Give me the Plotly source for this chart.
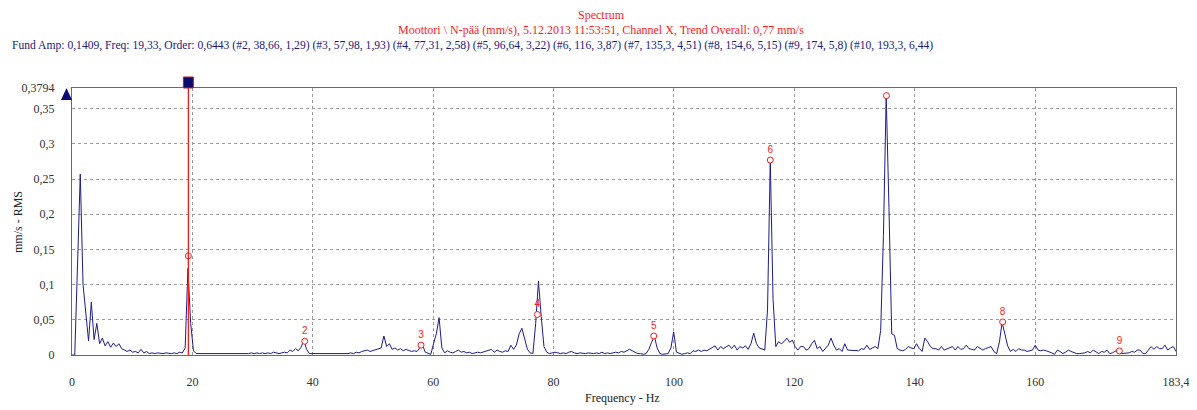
import numpy as np
import plotly.graph_objects as go

# ---------------- data ----------------
FMAX = 183.4          # Hz, analyser span
LINES = 400           # spectral lines -> bin width FMAX/LINES

AMP = [
    0.000, 0.000, 0.128, 0.257, 0.100, 0.055, 0.020, 0.075, 0.022, 0.045,
    0.016, 0.024, 0.013, 0.019, 0.011, 0.017, 0.012, 0.016, 0.009, 0.007,
    0.005, 0.007, 0.004, 0.005, 0.003, 0.008, 0.003, 0.005, 0.002, 0.003,
    0.002, 0.003, 0.002, 0.002, 0.003, 0.002, 0.002, 0.003, 0.002, 0.004,
    0.003, 0.010, 0.123, 0.045, 0.006, 0.002, 0.002, 0.001, 0.002, 0.001,
    0.002, 0.001, 0.002, 0.001, 0.002, 0.001, 0.002, 0.002, 0.001, 0.002,
    0.001, 0.002, 0.002, 0.001, 0.002, 0.003, 0.002, 0.003, 0.002, 0.003,
    0.002, 0.003, 0.002, 0.004, 0.003, 0.002, 0.003, 0.004, 0.003, 0.007,
    0.005, 0.009, 0.006, 0.011, 0.021, 0.008, 0.002, 0.002, 0.001, 0.002,
    0.002, 0.001, 0.002, 0.001, 0.002, 0.002, 0.001, 0.002, 0.002, 0.001,
    0.002, 0.003, 0.002, 0.004, 0.003, 0.005, 0.006, 0.007, 0.005, 0.006,
    0.007, 0.008, 0.010, 0.027, 0.012, 0.016, 0.008, 0.010, 0.007, 0.009,
    0.006, 0.008, 0.007, 0.005, 0.006, 0.005, 0.010, 0.014, 0.004, 0.002,
    0.001, 0.016, 0.030, 0.053, 0.010, 0.003, 0.006, 0.004, 0.003, 0.005,
    0.007, 0.004, 0.005, 0.003, 0.004, 0.002, 0.003, 0.004, 0.003, 0.004,
    0.005, 0.006, 0.008, 0.004, 0.007, 0.005, 0.004, 0.006, 0.005, 0.014,
    0.008, 0.014, 0.030, 0.038, 0.022, 0.008, 0.003, 0.002, 0.045, 0.105,
    0.055, 0.012, 0.004, 0.002, 0.003, 0.004, 0.003, 0.002, 0.003, 0.002,
    0.004, 0.005, 0.003, 0.002, 0.003, 0.002, 0.002, 0.003, 0.002, 0.002,
    0.003, 0.002, 0.004, 0.002, 0.003, 0.002, 0.003, 0.004, 0.003, 0.005,
    0.004, 0.006, 0.008, 0.006, 0.004, 0.002, 0.002, 0.001, 0.002, 0.008,
    0.018, 0.027, 0.010, 0.002, 0.001, 0.002, 0.002, 0.010, 0.033, 0.004,
    0.002, 0.001, 0.002, 0.003, 0.002, 0.006, 0.005, 0.007, 0.005, 0.007,
    0.006, 0.008, 0.010, 0.013, 0.007, 0.012, 0.009, 0.011, 0.014, 0.009,
    0.014, 0.007, 0.012, 0.010, 0.013, 0.008, 0.016, 0.031, 0.016, 0.010,
    0.009, 0.007, 0.064, 0.277, 0.080, 0.012, 0.019, 0.016, 0.019, 0.024,
    0.018, 0.021, 0.012, 0.007, 0.012, 0.012, 0.007, 0.009, 0.016, 0.021,
    0.009, 0.012, 0.005, 0.009, 0.014, 0.024, 0.014, 0.007, 0.009, 0.005,
    0.016, 0.007, 0.007, 0.006, 0.007, 0.006, 0.009, 0.008, 0.014, 0.008,
    0.010, 0.012, 0.009, 0.035, 0.170, 0.369, 0.210, 0.030, 0.028, 0.009,
    0.007, 0.006, 0.008, 0.012, 0.010, 0.009, 0.016, 0.009, 0.005, 0.024,
    0.019, 0.012, 0.009, 0.009, 0.007, 0.012, 0.007, 0.009, 0.010, 0.012,
    0.007, 0.012, 0.008, 0.009, 0.014, 0.009, 0.008, 0.007, 0.012, 0.009,
    0.007, 0.009, 0.010, 0.012, 0.005, 0.002, 0.018, 0.046, 0.030, 0.013,
    0.005, 0.008, 0.005, 0.009, 0.007, 0.007, 0.005, 0.006, 0.007, 0.014,
    0.007, 0.006, 0.007, 0.006, 0.005, 0.003, 0.001, 0.007, 0.005, 0.002,
    0.004, 0.007, 0.005, 0.003, 0.002, 0.002, 0.002, 0.003, 0.005, 0.003,
    0.007, 0.004, 0.002, 0.005, 0.004, 0.007, 0.002, 0.003, 0.005, 0.008,
    0.002, 0.002, 0.002, 0.003, 0.005, 0.004, 0.007, 0.007, 0.002, 0.002,
    0.007, 0.012, 0.008, 0.012, 0.009, 0.009, 0.014, 0.007, 0.010, 0.012,
    0.005,
]

# harmonic markers (fundamental + orders 2..9)
MARK_FREQ = [19.33, 38.66, 57.98, 77.31, 96.64, 116.0, 135.3, 154.6, 174.0]
MARK_AMP = [0.1409, 0.0195, 0.0140, 0.0575, 0.0270, 0.2770, 0.3686, 0.0470, 0.0058]
MARK_TEXT = ["", "2", "3", "4", "5", "6", "", "8", "9"]

CURSOR_F = 19.33

X_TICKS = [0, 20, 40, 60, 80, 100, 120, 140, 160, 183.4]
X_TICKTEXT = ["0", "20", "40", "60", "80", "100", "120", "140", "160", "183,4"]
Y_TICKS = [0, 0.05, 0.1, 0.15, 0.2, 0.25, 0.3, 0.35, 0.3794]
Y_TICKTEXT = ["0", "0,05", "0,1", "0,15", "0,2", "0,25", "0,3", "0,35", "0,3794"]
Y_MAX = 0.3794

TITLE1 = "Spectrum"
TITLE2 = "Moottori \\ N-pää (mm/s), 5.12.2013 11:53:51, Channel X, Trend Overall: 0,77 mm/s"
TITLE3 = ("Fund Amp: 0,1409, Freq: 19,33, Order: 0,6443 (#2, 38,66, 1,29) (#3, 57,98, 1,93) "
          "(#4, 77,31, 2,58) (#5, 96,64, 3,22) (#6, 116, 3,87) (#7, 135,3, 4,51) "
          "(#8, 154,6, 5,15) (#9, 174, 5,8) (#10, 193,3, 6,44)")
X_TITLE = "Frequency - Hz"
Y_TITLE = "mm/s - RMS"

# ---------------- layout geometry (screen pixels) ----------------
OFF = 8                      # default page body margin
SW, SH = 1197, 410           # browser window
L, R, T, B = 72, 1176, 88, 355  # plot-area box in screen pixels
W, H = SW - OFF, SH - OFF    # figure size


def px(xp, yp):
    """screen pixel position -> paper coordinates"""
    return (xp - L) / (R - L), (B - yp) / (B - T)


freq = np.arange(len(AMP)) * (FMAX / LINES)

SERIF = "Liberation Serif, Times New Roman, serif"
NAVY = "#1c1c8c"
RED = "#ff1a1a"

fig = go.Figure()

fig.add_trace(go.Scatter(
    x=freq, y=AMP, mode="lines",
    line=dict(color=NAVY, width=1), hoverinfo="skip", showlegend=False,
))

fig.add_trace(go.Scatter(
    x=MARK_FREQ, y=MARK_AMP, mode="markers+text", text=MARK_TEXT,
    textposition="top center",
    textfont=dict(family="Liberation Sans, Arial, sans-serif", size=10, color=RED),
    marker=dict(symbol="circle", size=6, color="white", line=dict(color=RED, width=1)),
    hoverinfo="skip", showlegend=False, cliponaxis=False,
))

grid = dict(showgrid=True, gridcolor="#9a9a9a", gridwidth=1, griddash="3px,3px",
            showline=True, linecolor="#6a6a6a", linewidth=1, mirror=True,
            zeroline=False, ticks="", automargin=False,
            tickfont=dict(family=SERIF, size=12, color="#333333"))

fig.update_layout(
    width=W, height=H, autosize=False,
    margin=dict(l=L - OFF, r=SW - R, t=T - OFF, b=SH - B, pad=0, autoexpand=False),
    paper_bgcolor="white", plot_bgcolor="white",
    xaxis=dict(range=[0, FMAX], tickvals=X_TICKS, ticktext=X_TICKTEXT,
               ticklabelstandoff=16, **grid),
    yaxis=dict(range=[0, Y_MAX], tickvals=Y_TICKS, ticktext=Y_TICKTEXT,
               ticklabelstandoff=14, **grid),
)

annots = []
for txt, xp, yp, col, anchor, fs in [
    (TITLE1, 601, 15, RED, "center", 12),
    (TITLE2, 601, 30, RED, "center", 12),
    (TITLE3, 10, 45, "#1a1a80", "left", 11.6),
]:
    ax, ay = px(xp, yp)
    annots.append(dict(text=txt, x=ax, y=ay, xref="paper", yref="paper",
                       xanchor=anchor, yanchor="middle", showarrow=False,
                       font=dict(family=SERIF, size=fs, color=col)))
ax, ay = px(622, 398)
annots.append(dict(text=X_TITLE, x=ax, y=ay, xref="paper", yref="paper",
                   xanchor="center", yanchor="middle", showarrow=False,
                   font=dict(family=SERIF, size=12, color="#222222")))
ax, ay = px(18, 222)
annots.append(dict(text=Y_TITLE, x=ax, y=ay, xref="paper", yref="paper",
                   xanchor="center", yanchor="middle", showarrow=False, textangle=-90,
                   font=dict(family=SERIF, size=12, color="#222222")))
fig.update_layout(annotations=annots)

# cursor line + handle square
fig.add_shape(type="line", xref="x", yref="paper", x0=CURSOR_F, x1=CURSOR_F, y0=0, y1=1,
              line=dict(color=RED, width=1.3), layer="above")
fig.add_shape(type="rect", xref="x", xsizemode="pixel", xanchor=CURSOR_F, x0=-5, x1=5,
              yref="paper", ysizemode="pixel", yanchor=1, y0=0, y1=11,
              fillcolor="#0a0a70", line=dict(color="#c02020", width=1), layer="above")

# navy triangle at the top of the y axis
p1 = px(61, 100); p2 = px(72, 100); p3 = px(66.5, 88)
fig.add_shape(type="path", xref="paper", yref="paper",
              path=f"M {p1[0]},{p1[1]} L {p2[0]},{p2[1]} L {p3[0]},{p3[1]} Z",
              fillcolor="#0a0a70", line=dict(color="#0a0a70", width=0), layer="above")

fig.write_html("out.html")
